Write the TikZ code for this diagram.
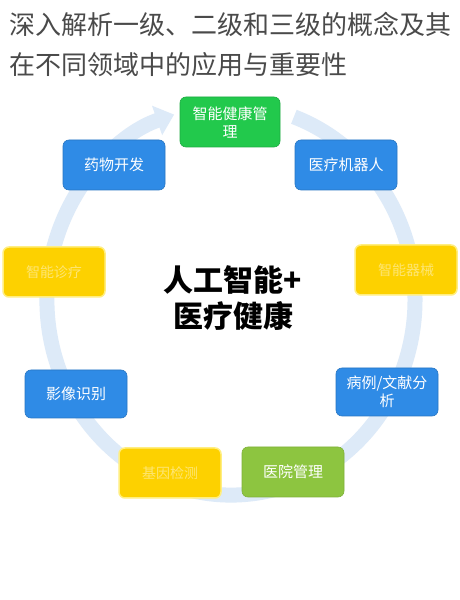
\documentclass[tikz,border=0pt]{standalone}
\usepackage{fontspec}
\setmainfont{Noto Sans CJK SC}
\usetikzlibrary{arrows.meta}
\definecolor{ringblue}{HTML}{DDEAF8}
\definecolor{boxblue}{HTML}{2F8BE6}
\definecolor{boxgreen}{HTML}{22C94C}
\definecolor{boxlime}{HTML}{8DC540}
\definecolor{boxyellow}{HTML}{FDD100}
\definecolor{yglow}{HTML}{FFEE80}
\definecolor{titlegray}{HTML}{4A4A4A}
\begin{document}
\begin{tikzpicture}[x=1pt,y=1pt,
  card/.style={rounded corners=6pt, minimum width=102pt, minimum height=50pt,
    align=center, font=\fontsize{15}{18}\selectfont, text=white, inner sep=2pt},
  bluecard/.style={card, fill=boxblue, draw=boxblue!85!black, line width=0.6pt},
  greencard/.style={card, fill=boxgreen, draw=boxgreen!85!black, line width=0.6pt},
  limecard/.style={card, fill=boxlime, draw=boxlime!90!black, line width=0.6pt},
  yellowcard/.style={card, fill=boxyellow, draw=yglow, line width=1.5pt,
    text=white, text opacity=0.45, font=\fontsize{14}{17}\selectfont},
  ring/.style={draw=ringblue, line width=15pt},
  titletext/.style={anchor=base west, text=titlegray, inner sep=0pt,
    font=\fontsize{26}{30}\selectfont},
  centertext/.style={align=center, text=black, inner sep=0pt,
    font=\fontsize{30}{36}\selectfont\bfseries}
]
\useasboundingbox (0,0) rectangle (459,600);
\fill[white] (0,0) rectangle (459,600);

% title
\node[titletext] (t1) at (9,565) {深入解析一级、二级和三级的概念及其};
\node[titletext] (t2) at (9,525) {在不同领域中的应用与重要性};

% ring
\coordinate (rs) at (293.9,483.2);
\draw[ring, -{Triangle[width=30pt,length=18pt]}] (rs)
  arc[start angle=70, end angle=-252, x radius=184, y radius=195];

% centre
\node[centertext] (c) at (233,302) {人工智能+\\医疗健康};

% cards
\node[greencard, minimum width=100pt] (g) at (230,478) {智能健康管\\理};
\node[bluecard] (drug) at (114,435) {药物开发};
\node[bluecard] (robot) at (346,435) {医疗机器人};
\node[yellowcard] (ly) at (54,328) {智能诊疗};
\node[yellowcard] (ry) at (406,330) {智能器械};
\node[bluecard, minimum height=48pt] (img) at (76,206) {影像识别};
\node[bluecard, minimum height=48pt] (case) at (387,208) {病例/文献分\\析};
\node[yellowcard] (by) at (170,127) {基因检测};
\node[limecard] (hosp) at (293,128) {医院管理};
\end{tikzpicture}
\end{document}
